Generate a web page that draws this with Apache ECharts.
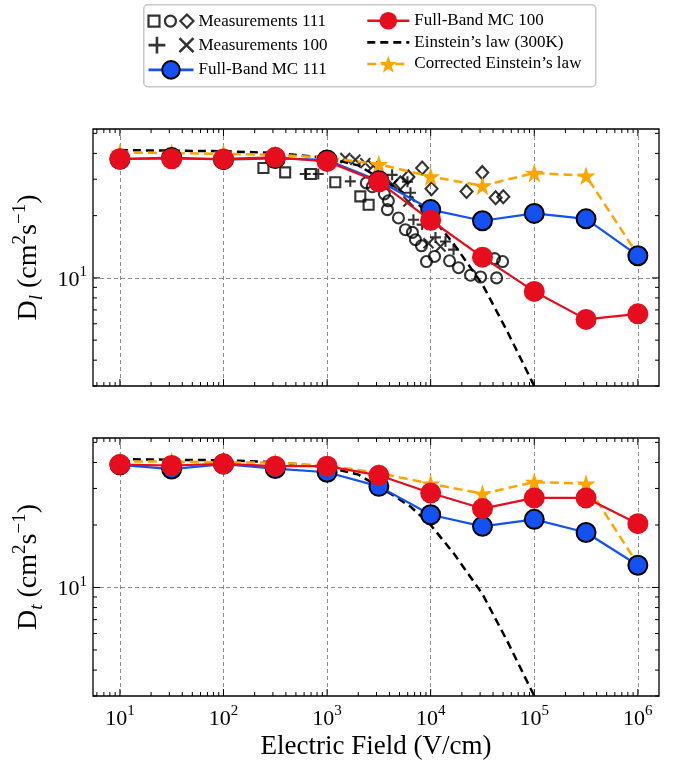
<!DOCTYPE html>
<html>
<head>
<meta charset="utf-8">
<script src="https://cdn.jsdelivr.net/npm/echarts@6/dist/echarts.min.js"></script>
<style>
html,body{margin:0;padding:0;background:#fff;}
#chart{width:681px;height:765px;}
</style>
</head>
<body>
<div id="chart"></div>
<script>
// ---------------- DATA ----------------
const fieldMC = [10, 31.6, 100, 316, 1000, 3162, 10000, 31623, 100000, 316228, 1000000];
// Longitudinal diffusion (top panel)
const dlMC111 = [37.5, 38.2, 37.3, 37.8, 37.2, 29.5, 21.4, 18.9, 20.5, 19.3, 12.8];
const dlMC100 = [37.7, 37.7, 37.6, 38.3, 36.6, 29.1, 19.0, 12.6, 8.6, 6.3, 6.7];
const dlCorrected = [40.3, 40.2, 39.8, 39.4, 38.1, 35.5, 30.9, 27.9, 32.2, 31.2, 12.9];
// Transverse diffusion (bottom panel)
const dtMC111 = [39.0, 37.2, 39.3, 37.4, 35.9, 30.7, 22.4, 19.7, 21.3, 18.4, 12.8];
const dtMC100 = [39.1, 38.7, 39.4, 38.4, 38.4, 34.7, 28.5, 24.0, 27.0, 27.0, 20.3];
const dtCorrected = [40.5, 40.5, 40.0, 40.0, 38.6, 35.6, 31.6, 28.3, 32.2, 31.6, 12.9];
// Einstein's law (300K)
const einsteinField = [10, 100, 316, 1000, 2000, 4250, 6400, 10000, 16700, 31600, 55000, 100000];
const einsteinD = [41.5, 41.0, 40.2, 38.0, 35.0, 28.0, 24.5, 20.0, 14.6, 9.3, 5.5, 3.0];
// Measurements 111 (square, circle, diamond) and 100 (plus, cross) : [field, D]
const meas111Square = [[243,34.0],[394,32.4],[698,31.8],[1200,29.0],[2094,24.8],[2518,22.6]];
const meas111Circle = [[2393,28.8],[2735,27.6],[3573,25.5],[3906,23.6],[3822,21.4],[4885,19.5],[5702,17.1],[6668,16.6],[7130,15.3],[8147,14.3],[9103,12.0],[10890,12.7],[15210,12.1],[18580,11.2],[24270,10.3],[30330,10.1],[43300,10.0],[41400,12.4],[49450,12.0]];
const meas111Diamond = [[5105,28.8],[6095,30.8],[8279,34.0],[10190,27.0],[22180,26.2],[31480,32.3],[42360,24.4],[50230,24.7]];
const meas100Plus = [[615,31.8],[822,31.8],[1675,29.3],[4246,31.5],[5970,29.2],[6383,25.8],[6823,19.1],[8279,18.1],[11120,15.7],[13900,15.0],[16630,13.7]];
const meas100Cross = [[1500,38.0],[1875,37.3],[2339,35.9],[2800,34.9],[4276,28.3],[6095,23.4],[9528,14.7],[12450,14.2]];
// Axis ticks
const tickDecades = [1, 10, 100, 1000, 10000, 100000, 1000000];
const tickMultipliers = [1, 2, 3, 4, 5, 6, 7, 8, 9];
const xRange = [5.5, 1.6e6];
const yRange = [3.0, 52.5];

// ---------------- STYLE ----------------
const FONT = 'Liberation Serif';
const BLUE = '#1451F2';
const RED = '#E50D1E';
const ORANGE = '#FFA500';
const STAR = 'path://M0,-10L2.245,-3.09L9.51,-3.09L3.633,1.18L5.878,8.09L0,3.82L-5.878,8.09L-3.633,1.18L-9.51,-3.09L-2.245,-3.09Z';
const PLUS = 'path://M0,5L10,5M5,0L5,10';
const CROSS = 'path://M0,0L10,10M10,0L0,10';
const ICON111 = 'path://M1,1L11,1L11,11L1,11Z M26,6A5,5,0,1,1,16,6A5,5,0,1,1,26,6Z M36,0L42,6L36,12L30,6Z';
const ICON100 = 'path://M0,6L12,6M6,0L6,12M22,1L32,11M32,1L22,11';

const tickVals = [];
tickDecades.forEach(d => tickMultipliers.forEach(m => tickVals.push(m * d)));
const xTicks = tickVals.filter(v => v >= xRange[0] && v <= xRange[1]);
const yTicks = tickVals.filter(v => v >= yRange[0] && v <= yRange[1]);

function isMajor(v) { const l = Math.log10(v); return Math.abs(l - Math.round(l)) < 1e-6; }

const supRich = {
  b: { fontFamily: FONT, fontSize: 22, color: '#000', lineHeight: 26, verticalAlign: 'bottom' },
  s: { fontFamily: FONT, fontSize: 15, color: '#000', lineHeight: 15, verticalAlign: 'top' }
};
function powLabel(v) { return '{b|10}{s|' + Math.round(Math.log10(v)) + '}'; }

function xAxisCfg(grid, showLabels) {
  return {
    type: 'log', gridIndex: grid, min: xRange[0], max: xRange[1], logBase: 10,
    axisLine: { show: false }, axisTick: { show: false },
    splitLine: { show: true, showMinLine: false, showMaxLine: false, lineStyle: { color: '#8c8c8c', type: [4, 3], width: 1 } },
    axisLabel: { show: showLabels, margin: 8, formatter: powLabel, rich: supRich, showMinLabel: false, showMaxLabel: false },
    name: showLabels ? 'Electric Field (V/cm)' : '',
    nameLocation: 'middle', nameGap: 37,
    nameTextStyle: { fontFamily: FONT, fontSize: 27, color: '#000' }
  };
}
function yAxisCfg(grid, sub) {
  return {
    type: 'log', gridIndex: grid, min: yRange[0], max: yRange[1], logBase: 10,
    axisLine: { show: false }, axisTick: { show: false },
    splitLine: { show: true, showMinLine: false, showMaxLine: false, lineStyle: { color: '#8c8c8c', type: [4, 3], width: 1 } },
    axisLabel: { margin: 6, formatter: powLabel, rich: supRich, showMinLabel: false, showMaxLabel: false },
    name: '{d|D}{i|' + sub + '}{d| (cm}{p|2}{d|s}{p|\u22121}{d|)}',
    nameLocation: 'middle', nameGap: 45, nameRotate: 90,
    nameTextStyle: {
      rich: {
        d: { fontFamily: FONT, fontSize: 28, color: '#000', lineHeight: 36, verticalAlign: 'middle' },
        i: { fontFamily: FONT, fontSize: 19, fontStyle: 'italic', color: '#000', lineHeight: 17, verticalAlign: 'bottom' },
        p: { fontFamily: FONT, fontSize: 19, color: '#000', lineHeight: 19, verticalAlign: 'top' }
      }
    }
  };
}

function tickSeries(grid) {
  return [{
    type: 'custom', xAxisIndex: grid, yAxisIndex: grid, silent: true, z: 10,
    data: xTicks.map(v => [v, 10]),
    renderItem: function (params, api) {
      const cs = params.coordSys; const v = api.value(0);
      const px = api.coord([v, 10])[0]; const len = isMajor(v) ? 7 : 4;
      const st = { stroke: '#000', lineWidth: 1 };
      return { type: 'group', children: [
        { type: 'line', shape: { x1: px, y1: cs.y + cs.height, x2: px, y2: cs.y + cs.height - len }, style: st },
        { type: 'line', shape: { x1: px, y1: cs.y, x2: px, y2: cs.y + len }, style: st }
      ] };
    }
  }, {
    type: 'custom', xAxisIndex: grid, yAxisIndex: grid, silent: true, z: 10,
    data: yTicks.map(v => [10, v]),
    renderItem: function (params, api) {
      const cs = params.coordSys; const v = api.value(1);
      const py = api.coord([10, v])[1]; const len = isMajor(v) ? 7 : 4;
      const st = { stroke: '#000', lineWidth: 1 };
      return { type: 'group', children: [
        { type: 'line', shape: { x1: cs.x, y1: py, x2: cs.x + len, y2: py }, style: st },
        { type: 'line', shape: { x1: cs.x + cs.width, y1: py, x2: cs.x + cs.width - len, y2: py }, style: st }
      ] };
    }
  }];
}

function pairs(xs, ys) { return xs.map((x, i) => [x, ys[i]]); }

function scatterSeries(name, data, symbol, size) {
  return {
    name: name, type: 'scatter', xAxisIndex: 0, yAxisIndex: 0, z: 2,
    data: data, symbol: symbol, symbolSize: size,
    itemStyle: { color: 'none', borderColor: '#000', borderWidth: 2.1 }
  };
}

function mcSeries(grid, d111, d100, dCorr) {
  return [
    {
      name: 'Einstein\u2019s law (300K)', type: 'line', xAxisIndex: grid, yAxisIndex: grid, z: 3,
      data: pairs(einsteinField, einsteinD), symbol: 'none', smooth: false,
      lineStyle: { color: '#000', width: 2.5, type: [8, 5] }, itemStyle: { color: '#000' }
    },
    {
      name: 'Corrected Einstein\u2019s law', type: 'line', xAxisIndex: grid, yAxisIndex: grid, z: 4,
      data: pairs(fieldMC, dCorr), symbol: STAR, symbolSize: 19, showAllSymbol: true,
      lineStyle: { color: ORANGE, width: 2.5, type: [9, 5] }, itemStyle: { color: ORANGE }
    },
    {
      name: 'Full-Band MC 111', type: 'line', xAxisIndex: grid, yAxisIndex: grid, z: 5,
      data: pairs(fieldMC, d111), symbol: 'circle', symbolSize: 19, showAllSymbol: true,
      lineStyle: { color: BLUE, width: 2.2 }, itemStyle: { color: BLUE, borderColor: '#000', borderWidth: 2 }
    },
    {
      name: 'Full-Band MC 100', type: 'line', xAxisIndex: grid, yAxisIndex: grid, z: 6,
      data: pairs(fieldMC, d100), symbol: 'circle', symbolSize: 21, showAllSymbol: true,
      lineStyle: { color: RED, width: 2.2 }, itemStyle: { color: RED }
    }
  ];
}

const series = [
  scatterSeries('Measurements 111', meas111Square, 'rect', 10),
  scatterSeries('Measurements 111', meas111Circle, 'circle', 11),
  scatterSeries('Measurements 111', meas111Diamond, 'diamond', [12, 13]),
  scatterSeries('Measurements 100', meas100Plus, PLUS, 11),
  scatterSeries('Measurements 100', meas100Cross, CROSS, 10)
].concat(mcSeries(0, dlMC111, dlMC100, dlCorrected))
 .concat(mcSeries(1, dtMC111, dtMC100, dtCorrected))
 .concat(tickSeries(0)).concat(tickSeries(1));

const legendText = { fontFamily: FONT, fontSize: 17, color: '#000' };

const option = {
  animation: false,
  backgroundColor: '#fff',
  graphic: [{
    type: 'rect', left: 143, top: 4, z: 0, silent: true,
    shape: { width: 452, height: 82, r: 4 },
    style: { fill: '#fff', stroke: '#c8c8c8', lineWidth: 1.5 }
  }],
  legend: [{
    orient: 'vertical', left: 146, top: 12, padding: 0, itemGap: 4,
    itemWidth: 45, itemHeight: 22, textStyle: legendText, selectedMode: false,
    lineStyle: { width: 2.6 },
    data: [
      { name: 'Measurements 111', icon: ICON111, itemStyle: { color: 'none', borderColor: '#000', borderWidth: 2.2 } },
      { name: 'Measurements 100', icon: ICON100, itemStyle: { color: 'none', borderColor: '#000', borderWidth: 2.6 } },
      { name: 'Full-Band MC 111' }
    ]
  }, {
    orient: 'vertical', left: 366, top: 12, padding: 0, itemGap: 4,
    itemWidth: 42, itemHeight: 22, textStyle: legendText, selectedMode: false,
    lineStyle: { width: 2.6 },
    data: [
      { name: 'Full-Band MC 100' },
      { name: 'Einstein\u2019s law (300K)', itemStyle: { color: 'rgba(0,0,0,0)', borderColor: 'rgba(0,0,0,0)', borderWidth: 0 } },
      { name: 'Corrected Einstein\u2019s law' }
    ]
  }],
  grid: [
    { left: 93, top: 129, width: 566, height: 257, show: true, borderColor: '#000', borderWidth: 1.3, backgroundColor: 'transparent' },
    { left: 93, top: 438, width: 566, height: 258, show: true, borderColor: '#000', borderWidth: 1.3, backgroundColor: 'transparent' }
  ],
  xAxis: [xAxisCfg(0, false), xAxisCfg(1, true)],
  yAxis: [yAxisCfg(0, 'l'), yAxisCfg(1, 't')],
  series: series
};

const chart = echarts.init(document.getElementById('chart'), null, { renderer: 'canvas' });
chart.setOption(option);
</script>
</body>
</html>
